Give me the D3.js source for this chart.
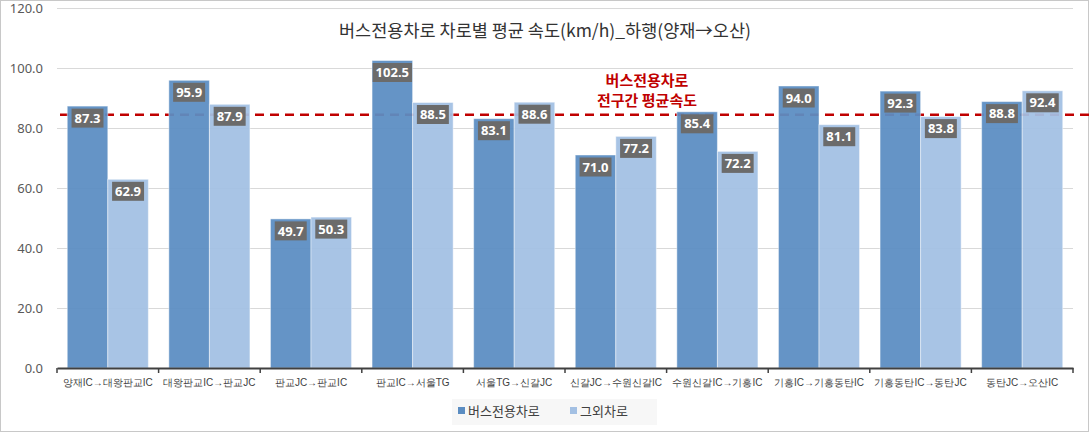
<!DOCTYPE html>
<html><head><meta charset="utf-8">
<script src="https://cdn.jsdelivr.net/npm/d3@7/dist/d3.min.js"></script>
<style>
body{margin:0;background:#fff;}
svg{display:block;font-family:"Noto Sans CJK KR","Noto Sans",sans-serif;}
</style></head>
<body><svg id="c" width="1089" height="432"></svg>
<script>
const categories = ["양재IC→대왕판교IC","대왕판교IC→판교JC","판교JC→판교IC","판교IC→서울TG","서울TG→신갈JC","신갈JC→수원신갈IC","수원신갈IC→기흥IC","기흥IC→기흥동탄IC","기흥동탄IC→동탄JC","동탄JC→오산IC"];
const busLane = [87.3,95.9,49.7,102.5,83.1,71.0,85.4,94.0,92.3,88.8];
const otherLane = [62.9,87.9,50.3,88.5,88.6,77.2,72.2,81.1,83.8,92.4];
const seriesNames = ["버스전용차로","그외차로"];
const avgBus = 84.4;
const yTicks = [0,20,40,60,80,100,120];
const title = "버스전용차로 차로별 평균 속도(km/h)_하행(양재→오산)";
const avgLabel = ["버스전용차로","전구간 평균속도"];

const svg = d3.select("#c");
const W=1089,H=432;
const L=57,R=1073,T=8,B=368;
const colors=["#5b8dc2","#a3c0e3"];

svg.append("rect").attr("x",0.5).attr("y",0.5).attr("width",W-1).attr("height",H-1).attr("fill","#fff").attr("stroke","#c8c8c8");

const x = d3.scaleBand().domain(categories).range([L,R]).paddingInner(0).paddingOuter(0);
const inner = d3.scaleBand().domain([0,1]).range([0,x.bandwidth()]).paddingInner(0).paddingOuter(0.1265*2);
const y = d3.scaleLinear().domain([0,120]).range([B,T]);

// gridlines
svg.append("g").selectAll("line").data(yTicks.filter(d=>d>0)).join("line")
 .attr("x1",L).attr("x2",R).attr("y1",d=>y(d)).attr("y2",d=>y(d))
 .attr("stroke","#d9d9d9").attr("stroke-width",1).attr("shape-rendering","crispEdges");

// y labels
const yAxis = d3.axisLeft(y).tickValues(yTicks).tickFormat(d3.format(".1f")).tickSize(0).tickPadding(14);
const ya = svg.append("g").attr("transform",`translate(${L},0)`).call(yAxis);
ya.select(".domain").remove();
ya.selectAll("text").attr("font-size",13).attr("fill","#595959").attr("font-family","'Noto Sans','DejaVu Sans',sans-serif");

// average dashed line (behind bars)
svg.append("line").attr("x1",60).attr("x2",W).attr("y1",y(avgBus)).attr("y2",y(avgBus))
 .attr("stroke","#c00000").attr("stroke-width",2.5).attr("stroke-dasharray","9,6");

// bars
const data=[busLane,otherLane];
const gCat = svg.append("g").selectAll("g").data(categories).join("g").attr("transform",d=>`translate(${x(d)},0)`);
gCat.each(function(c,i){
  const g=d3.select(this);
  [0,1].forEach(s=>{
    const v=data[s][i];
    g.append("rect").attr("x",inner(s)).attr("width",inner.bandwidth()).attr("y",y(v)).attr("height",y(0)-y(v))
     .attr("fill",colors[s]).attr("fill-opacity",0.94).attr("stroke","#ffffff").attr("stroke-opacity",0.45).attr("stroke-width",1);
  });
});
gCat.each(function(c,i){
  const g=d3.select(this);
  [0,1].forEach(s=>{
    const v=data[s][i];
    const cx=inner(s)+inner.bandwidth()/2, cy=y(v)+12;
    const t=g.append("text").attr("x",cx).attr("y",cy).attr("dy","0.36em").attr("text-anchor","middle")
     .attr("font-size",13).attr("font-weight","bold").attr("fill","#fff").attr("font-family","'Noto Sans','DejaVu Sans',sans-serif")
     .text(v.toFixed(1));
    const bb=t.node().getBBox();
    g.insert("rect","text").attr("x",cx-bb.width/2-3).attr("y",cy-9.5).attr("width",bb.width+6).attr("height",19).attr("fill","#6b6b6b");
  });
});
gCat.each(function(){ d3.select(this).selectAll("text").raise(); });

// x axis
const xAxis = d3.axisBottom(x).tickSize(0).tickPadding(11);
const xa = svg.append("g").attr("transform",`translate(0,${B})`).call(xAxis);
xa.select(".domain").attr("stroke","#404040").attr("stroke-width",2);
xa.selectAll("text").attr("font-size",10).attr("fill","#404040");
svg.append("g").selectAll("line").data(categories.concat(["__end"])).join("line")
 .attr("x1",(d,i)=>L+i*x.step()).attr("x2",(d,i)=>L+i*x.step()).attr("y1",B).attr("y2",B+5)
 .attr("stroke","#404040").attr("stroke-width",1.5);

// title
svg.append("text").attr("x",545).attr("y",37).attr("text-anchor","middle").attr("font-size",17.5).attr("fill","#333").text(title);

// avg annotation
svg.selectAll(".avg").data(avgLabel).join("text").attr("class","avg")
 .attr("x",647).attr("y",(d,i)=>86+i*20).attr("text-anchor","middle").attr("font-size",15).attr("font-weight","bold").attr("fill","#c00000").text(d=>d);

// legend
svg.append("rect").attr("x",452).attr("y",399).attr("width",205).attr("height",26).attr("fill","#f7f7f7");
const lx=[458,570];
seriesNames.forEach((n,i)=>{
  svg.append("rect").attr("x",lx[i]).attr("y",407).attr("width",7).attr("height",7).attr("fill",colors[i]);
  svg.append("text").attr("x",lx[i]+10).attr("y",416).attr("font-size",13).attr("fill","#404040").text(n);
});
</script></body></html>
